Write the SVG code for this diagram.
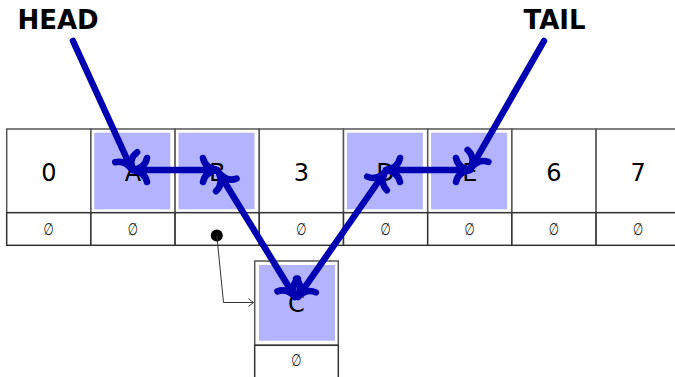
<svg xmlns="http://www.w3.org/2000/svg" width="675" height="377" viewBox="0 0 675 377">
<defs>
<style>
.cell{fill:#fff;stroke:#555;stroke-width:1.5}
.sub{fill:#fff;stroke:#333;stroke-width:1.5}
.hl{fill:#b3b3ff;stroke:none}
.big{font-family:"DejaVu Sans",sans-serif;font-size:24px;text-anchor:middle;fill:#000}
.nil{font-family:"DejaVu Sans",sans-serif;font-size:17px;text-anchor:middle;fill:#222}
.lbl{font-family:"DejaVu Sans",sans-serif;font-size:26px;font-weight:bold;text-anchor:middle;fill:#000}
.ptr{fill:none;stroke:#0000b3;stroke-width:6.5;stroke-linecap:round;marker-end:url(#to);}
.dbl{marker-start:url(#tos);}
</style>
<marker id="to" markerUnits="userSpaceOnUse" viewBox="-20 -16 24 32" markerWidth="24" markerHeight="32" refX="0" refY="0" orient="auto" overflow="visible">
<path d="M -14 -12 Q -12 -2 0 0 Q -12 2 -14 12" fill="none" stroke="#0000b3" stroke-width="6.5" stroke-linecap="round"/>
</marker>
<marker id="tos" markerUnits="userSpaceOnUse" viewBox="-4 -16 24 32" markerWidth="24" markerHeight="32" refX="0" refY="0" orient="auto" overflow="visible">
<path d="M 14 -12 Q 12 -2 0 0 Q 12 2 14 12" fill="none" stroke="#0000b3" stroke-width="6.5" stroke-linecap="round"/>
</marker>
<marker id="thin" markerUnits="userSpaceOnUse" viewBox="-8 -6 10 12" markerWidth="10" markerHeight="12" refX="0" refY="0" orient="auto" overflow="visible">
<path d="M -5 -4 Q -1.5 -1 0 0 Q -1.5 1 -5 4" fill="none" stroke="#333" stroke-width="1"/>
</marker>
</defs>
<rect width="675" height="377" fill="#fff"/>
<g id="cell0"><rect class="cell" x="6.7" y="129" width="84.2" height="83.7"/><text class="big" x="48.8" y="181">0</text><rect class="sub" x="6.7" y="212.7" width="84.2" height="32.6"/><text class="nil" transform="translate(48.8,235) scale(0.7,1)">∅</text></g>
<g id="cellA"><rect class="cell" x="90.9" y="129" width="84.2" height="83.7"/><rect class="hl" x="94.3" y="132.7" width="76" height="76.6"/><text class="big" x="133" y="181">A</text><rect class="sub" x="90.9" y="212.7" width="84.2" height="32.6"/><text class="nil" transform="translate(133,235) scale(0.7,1)">∅</text></g>
<g id="cellB"><rect class="cell" x="175.1" y="129" width="84.2" height="83.7"/><rect class="hl" x="178.5" y="132.7" width="76" height="76.6"/><text class="big" x="217.2" y="181">B</text><rect class="sub" x="175.1" y="212.7" width="84.2" height="32.6"/><circle cx="216.8" cy="235.5" r="6" fill="#000"/></g>
<g id="cell3"><rect class="cell" x="259.3" y="129" width="84.2" height="83.7"/><text class="big" x="301.4" y="181">3</text><rect class="sub" x="259.3" y="212.7" width="84.2" height="32.6"/><text class="nil" transform="translate(301.4,235) scale(0.7,1)">∅</text></g>
<g id="cellD"><rect class="cell" x="343.5" y="129" width="84.2" height="83.7"/><rect class="hl" x="346.9" y="132.7" width="76" height="76.6"/><text class="big" x="385.6" y="181">D</text><rect class="sub" x="343.5" y="212.7" width="84.2" height="32.6"/><text class="nil" transform="translate(385.6,235) scale(0.7,1)">∅</text></g>
<g id="cellE"><rect class="cell" x="427.7" y="129" width="84.2" height="83.7"/><rect class="hl" x="431.1" y="132.7" width="76" height="76.6"/><text class="big" x="469.8" y="181">E</text><rect class="sub" x="427.7" y="212.7" width="84.2" height="32.6"/><text class="nil" transform="translate(469.8,235) scale(0.7,1)">∅</text></g>
<g id="cell6"><rect class="cell" x="511.9" y="129" width="84.2" height="83.7"/><text class="big" x="554" y="181">6</text><rect class="sub" x="511.9" y="212.7" width="84.2" height="32.6"/><text class="nil" transform="translate(554,235) scale(0.7,1)">∅</text></g>
<g id="cell7"><rect class="cell" x="596.1" y="129" width="84.2" height="83.7"/><text class="big" x="638.2" y="181">7</text><rect class="sub" x="596.1" y="212.7" width="84.2" height="32.6"/><text class="nil" transform="translate(638.2,235) scale(0.7,1)">∅</text></g>
<g id="cellC"><rect class="cell" x="254.7" y="261" width="83.6" height="84.3"/><rect class="hl" x="259" y="265" width="76" height="75.7"/><text class="big" x="296.5" y="312">C</text><rect class="sub" x="254.7" y="345.3" width="83.6" height="40"/><text class="nil" transform="translate(296.5,366) scale(0.7,1)">∅</text></g>
<g id="head"><text class="lbl" x="58" y="29">HEAD</text></g>
<g id="tail"><text class="lbl" x="554.5" y="29">TAIL</text></g>
<g id="connectors">
<path class="ptr" d="M 73 41 L 132 170"/>
<path class="ptr" d="M 544 41 L 471 168"/>
<path class="ptr dbl" d="M 133 170 L 217 170"/>
<path class="ptr dbl" d="M 386 170 L 470 170"/>
<path class="ptr dbl" d="M 219 173 L 295 297"/>
<path class="ptr dbl" d="M 385 172 L 298 297"/>
<path d="M 216.8 235.5 L 223.5 302.5 L 253.5 302.5" fill="none" stroke="#333" stroke-width="1" marker-end="url(#thin)"/>
</g>
</svg>
